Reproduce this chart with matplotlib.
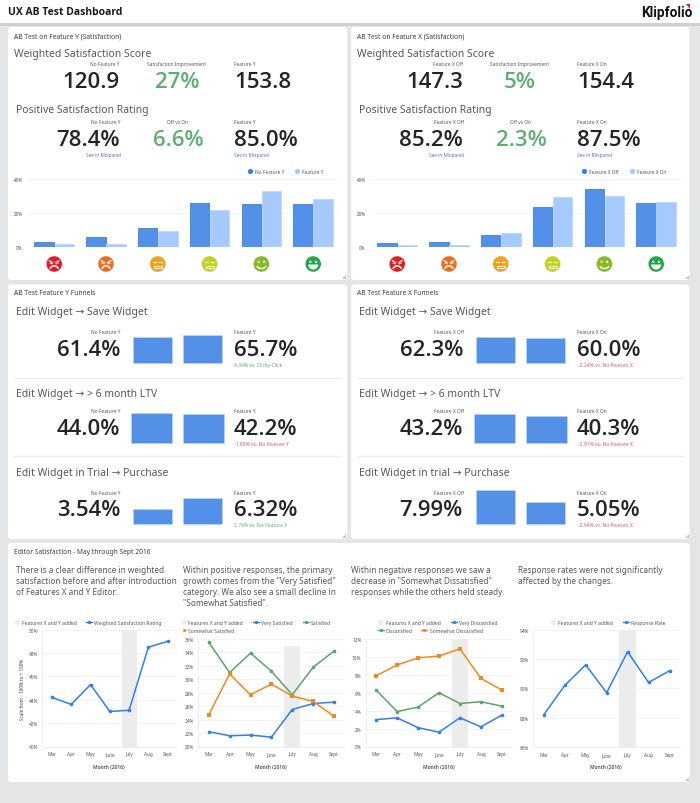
import numpy as np
import matplotlib
matplotlib.use('Agg')
import matplotlib.pyplot as plt
from matplotlib.patches import FancyBboxPatch, Rectangle, Circle, Polygon, Arc

plt.rcParams['font.family'] = ['Noto Sans', 'DejaVu Sans']

W, H = 700, 804

# data
faces = ['angry', 'mad', 'flat', 'meh', 'smile', 'grin']
face_colors = ['#e31b23', '#ee6c1e', '#f2a11f', '#bfd41f', '#86bb27', '#22a64b']
y_off = [2.9, 5.9, 11.5, 26.1, 25.4, 25.2]
y_on = [2.0, 2.0, 9.4, 22.0, 33.2, 28.1]
x_off = [2.7, 3.3, 7.2, 23.6, 34.0, 25.8]
x_on = [1.2, 1.6, 8.4, 29.3, 30.0, 26.5]

months = ['Mar', 'Apr', 'May', 'June', 'July', 'Aug', 'Sept']
weighted = [44.2, 43.6, 45.3, 43.0, 43.1, 48.5, 49.0]
very_sat = [22.2, 21.6, 21.7, 21.4, 25.5, 26.4, 26.6]
satisfied = [35.5, 31.0, 33.9, 31.2, 27.7, 31.8, 34.2]
somewhat_sat = [24.7, 30.8, 27.7, 29.3, 27.5, 26.7, 24.5]
very_dis = [3.0, 3.2, 2.1, 1.6, 3.2, 2.2, 3.5]
dissatisfied = [6.3, 3.9, 4.4, 6.0, 4.8, 5.0, 4.5]
somewhat_dis = [7.9, 9.1, 9.9, 10.1, 10.9, 7.6, 6.3]
response = [88.2, 90.2, 91.6, 89.7, 92.5, 90.4, 91.2]

funnel_y = [[61.4, 65.7], [44.0, 42.2], [3.54, 6.32]]
funnel_x = [[62.3, 60.0], [43.2, 40.3], [7.99, 5.05]]

BLUE = '#2f7fed'
GREEN = '#5aa469'
ORANGE = '#ee8a1d'
DARK = '#222426'
GREY = '#55585b'
BAR = '#5390e8'
LIGHT = '#a6caff'
POS = '#5fae73'
NEG = '#e0566e'
LINK = '#6073b8'


def pt(px):
    return px * 0.72


fig = plt.figure(figsize=(7, 8.04), dpi=100, facecolor='#e4e5e6')
bg = fig.add_axes([0, 0, 1, 1])
bg.set_xlim(0, W)
bg.set_ylim(H, 0)
bg.axis('off')


def px_ax(x0, y0, x1, y1):
    ax = fig.add_axes([x0 / W, 1 - y1 / H, (x1 - x0) / W, (y1 - y0) / H])
    ax.patch.set_alpha(0)
    return ax


def txt(x, y, s, size, color=GREY, ha='left', **kw):
    # va center sits a little high because of the descender room
    bg.text(x, y + size * 0.1, s, fontsize=pt(size), color=color, ha=ha, va='center', **kw)


def big(x, y, s, color=DARK, ha='left'):
    txt(x, y - 0.8, s, 22.3, color, ha, family='Open Sans', fontweight='semibold')


def panel(x0, y0, x1, y1, handle=True):
    bg.add_patch(FancyBboxPatch((x0 + 3, y0 + 3), x1 - x0 - 6, y1 - y0 - 6,
                                boxstyle='round,pad=3,rounding_size=3', fc='white', ec='none'))
    if handle:
        bg.add_patch(Polygon([[x1 - 1, y1 - 5], [x1 - 1, y1 - 1], [x1 - 5, y1 - 1]], fc='#c4c6c8', ec='none'))


def draw_face(cx, cy, color, kind):
    bg.add_patch(Circle((cx, cy), 8, fc=color, ec='#f4f4f4', lw=0.3))
    lw = 0.8
    if kind in ('angry', 'mad'):
        bg.plot([cx - 5, cx - 1.5], [cy - 3.5, cy - 1.5], color='white', lw=lw)
        bg.plot([cx + 5, cx + 1.5], [cy - 3.5, cy - 1.5], color='white', lw=lw)
        bg.plot([cx - 4, cx - 2], [cy - 1, cy - 0.2], color='white', lw=lw)
        bg.plot([cx + 4, cx + 2], [cy - 1, cy - 0.2], color='white', lw=lw)
        bg.add_patch(Arc((cx, cy + 5), 8, 6, theta1=180, theta2=360, color='white', lw=1.1))
    elif kind in ('flat', 'meh'):
        bg.plot([cx - 4.5, cx - 1.5], [cy - 2, cy - 2], color='white', lw=lw)
        bg.plot([cx + 1.5, cx + 4.5], [cy - 2, cy - 2], color='white', lw=lw)
        bg.add_patch(Rectangle((cx - 4, cy + 1.5), 8, 2, fc='none', ec='white', lw=0.7))
    else:
        bg.add_patch(Circle((cx - 2.8, cy - 2.2), 1.1, fc='white', ec='none'))
        bg.add_patch(Circle((cx + 2.8, cy - 2.2), 1.1, fc='white', ec='none'))
        if kind == 'smile':
            bg.add_patch(Arc((cx, cy + 0.5), 10, 8, theta1=20, theta2=160, color='white', lw=1))
        else:
            th = np.radians(np.arange(0, 181, 15))
            bg.add_patch(Polygon(np.c_[cx + 5 * np.cos(th), cy + 0.5 + 5 * np.sin(th)], fc='white', ec='none'))


def sat_panel(dx, name, off_label, on_label, scores, pct, off, on, leg):
    txt(14 + dx, 36, name, 6.7, '#3a3d40')
    txt(14 + dx, 53, 'Weighted Satisfaction Score', 10.4)
    txt(120 + dx, 64.5, off_label, 4.85, ha='right')
    txt(177 + dx, 64.5, 'Satisfaction Improvement', 4.85, ha='center')
    txt(234 + dx, 64.5, on_label, 4.85)
    big(120 + dx, 81, scores[0], ha='right')
    big(177 + dx, 81, scores[1], POS, 'center')
    big(234 + dx, 81, scores[2])
    txt(16 + dx, 109, 'Positive Satisfaction Rating', 10.4)
    txt(120.5 + dx, 122.5, off_label, 4.85, ha='right')
    txt(177.5 + dx, 122.5, 'Off vs On', 4.85, ha='center')
    txt(234 + dx, 122.5, on_label, 4.85)
    big(120 + dx, 139, pct[0], ha='right')
    big(178 + dx, 139, pct[1], POS, 'center')
    big(234 + dx, 139, pct[2])
    txt(121 + dx, 155, 'See in Mixpanel', 4.75, LINK, 'right')
    txt(234 + dx, 155, 'See in Mixpanel', 4.75, LINK)

    bg.scatter([leg[0]], [171.7], s=14, color=BLUE, lw=0)
    txt(leg[0] + 5.3, 171.7, off_label, 4.8)
    bg.scatter([leg[1]], [171.7], s=14, color=LIGHT, lw=0)
    txt(leg[1] + 5, 171.7, on_label, 4.8)

    ax = px_ax(28 + dx + 0.3, 180, 339 + dx, 248.3)
    pos = np.arange(6)
    ax.bar(pos - 0.195, off, 0.375, color=BAR, edgecolor='#3c80e6', lw=0.6)
    ax.bar(pos + 0.195, on, 0.375, color=LIGHT, edgecolor='#b9d6ff', lw=0.6)
    ax.set_xlim(-0.5, 5.5)
    ax.set_ylim(0, 40)
    ax.set_yticks([0, 20, 40], ['0%', '20%', '40%'])
    ax.set_xticks([])
    ax.tick_params(axis='y', length=0, labelsize=pt(4.6), labelcolor=GREY, pad=4)
    ax.grid(axis='y', color='#f3f3f3', lw=0.8)
    ax.set_axisbelow(True)
    for s in ax.spines.values():
        s.set_visible(False)
    for i, kind in enumerate(faces):
        draw_face(28.3 + dx + 51.8 * (i + 0.5), 265, face_colors[i], kind)


def funnel_bars(c0, c1, base, top_px, vals):
    spacing = c1 - c0
    ax = px_ax(c0 - spacing / 2, base - top_px, c1 + spacing / 2, base)
    ax.bar([0, 1], vals, 0.775, color=BAR, edgecolor='#bcd5f7', lw=0.5, clip_on=False)
    ax.set_xlim(-0.5, 1.5)
    ax.set_ylim(0, max(vals))
    ax.axis('off')


def funnel_panel(dx, name, off_label, on_label, rows, vals, fmts, notes, geom):
    txt(14 + dx, 293, name, 6.7, '#3a3d40')
    for (title, ty, ly, ny, sy), val, fmt, note, g in zip(rows, vals, fmts, notes, geom):
        txt(16 + dx, ty, title, 10.4)
        txt(120.5 + dx, ly, off_label, 4.85, ha='right')
        txt(234 + dx, ly, on_label, 4.85)
        big(120 + dx, ny, fmt.format(val[0]), ha='right')
        big(234 + dx, ny, fmt.format(val[1]))
        txt(234.5 + dx, sy, note[0], 5.0, note[1])
        funnel_bars(g[0], g[1], g[2], g[3], val)
    for y in [378.7, 457.3]:
        bg.plot([13.5 + dx, 340 + dx], [y, y], color='#ececec', lw=1)


def line_ax(x0, y0, x1, y1, ylim, ticks, band, series, xlabel_x):
    ax = px_ax(x0, y0, x1, y1)
    pos = np.arange(len(months))
    ax.bar(4, band - ylim[0], 0.78, bottom=ylim[0], color='#ececec', lw=0)
    for vals, color, marker in series:
        ax.plot(pos, vals, color=color, lw=1.1, marker=marker, ms=2.6, mew=0)
    ax.set_xlim(-0.5, 6.5)
    ax.set_ylim(*ylim)
    ax.set_yticks(ticks, [f'{t}%' for t in ticks])
    ax.set_xticks(pos, months)
    ax.tick_params(axis='both', length=0, labelsize=pt(4.7), labelcolor=GREY)
    ax.tick_params(axis='y', pad=3)
    ax.tick_params(axis='x', pad=3.5)
    ax.grid(axis='y', color='#f3f3f3', lw=0.8)
    ax.set_axisbelow(True)
    for s in ['top', 'right']:
        ax.spines[s].set_visible(False)
    for s in ['left', 'bottom']:
        ax.spines[s].set_color('#eeeeee')
        ax.spines[s].set_linewidth(0.7)
    txt(xlabel_x, 766, 'Month (2016)', 4.9, '#3c3f42', 'center', family='Open Sans', fontweight='semibold')
    return ax


def leg_line(x, y, s, color, marker='o'):
    bg.plot([x - 3, x + 3], [y, y], color=color, lw=1)
    bg.plot([x], [y], color=color, marker=marker, ms=2.4, mew=0)
    txt(x + 5.2, y, s, 5)


def leg_band(x, y, s, tx):
    bg.scatter([x], [y], s=14, color='#ececec', lw=0)
    txt(tx, y, s, 5)


# page background pieces
bg.add_patch(Rectangle((0, 0), W, 24, fc='white', ec='none'))
bg.add_patch(Rectangle((0, 24), W, 2.5, fc='#cdcfd1', ec='none'))
txt(8, 11, 'UX AB Test Dashboard', 10.4, '#1a1a1a', family='Open Sans', fontweight='bold')
txt(641.5, 11.5, 'Klipfolio', 13.6, '#111111', family='Roboto', fontweight='bold')
bg.add_patch(Polygon([[685.5, 5.3], [690, 5.3], [690, 9.8]], fc='#d8232a', ec='none'))

panel(8, 28, 347, 281)
panel(351, 28, 689.5, 281)
panel(8, 285.5, 347, 540)
panel(351, 285.5, 689.5, 540)
panel(8, 544, 690, 783)

sat_panel(0, 'AB Test on Feature Y (Satisfaction)', 'No Feature Y', 'Feature Y',
          ['120.9', '27%', '153.8'], ['78.4%', '6.6%', '85.0%'], y_off, y_on, [249.7, 297.3])
sat_panel(343, 'AB Test on Feature X (Satisfaction)', 'Feature X Off', 'Feature X On',
          ['147.3', '5%', '154.4'], ['85.2%', '2.3%', '87.5%'], x_off, x_on, [583.7, 632.3])

row_y = [('Edit Widget → Save Widget', 311.7, 332.3, 349, 365),
         ('Edit Widget → > 6 month LTV', 393.7, 411, 428.3, 444),
         ('Edit Widget in Trial → Purchase', 472.3, 492.7, 509.3, 525)]
row_x = [('Edit Widget → Save Widget', 311.7, 332.3, 349, 365),
         ('Edit Widget → > 6 month LTV', 393.7, 411, 428.3, 444),
         ('Edit Widget in trial → Purchase', 472.3, 492.7, 509.3, 525)]
notes_y = [('4.34% vs. Clicky-Click', POS), ('-1.85% vs. No Feature Y', NEG), ('2.78% vs. No Feature Y', POS)]
notes_x = [('-2.24% vs. No Feature X', NEG), ('-2.91% vs. No Feature X', NEG), ('-2.94% vs. No Feature X', NEG)]
geom_y = [(152.3, 202.7, 364, 27.7), (151.3, 203.5, 444.3, 30.7), (152.3, 202.7, 524.7, 26)]
geom_x = [(495.3, 545.8, 364, 26), (494.3, 546.5, 444.3, 29.3), (495.3, 545.8, 524.7, 33.7)]
fmts = ['{:.1f}%', '{:.1f}%', '{:.2f}%']

funnel_panel(0, 'AB Test Feature Y Funnels', 'No Feature Y', 'Feature Y', row_y, funnel_y, fmts, notes_y, geom_y)
funnel_panel(343, 'AB Test Feature X Funnels', 'Feature X Off', 'Feature X On', row_x, funnel_x, fmts, notes_x, geom_x)

txt(14, 552, 'Editor Satisfaction - May through Sept 2016', 6.7, '#3a3d40')

paragraphs = [
    (16, ['There is a clear difference in weighted', 'satisfaction before and after introduction', 'of Features X and Y Editor.']),
    (183.3, ['Within positive responses, the primary', 'growth comes from the "Very Satisfied"', 'category. We also see a small decline in', '"Somewhat Satisfied".']),
    (351, ['Within negative responses we saw a', 'decrease in "Somewhat Dissatisfied"', 'responses while the others held steady.']),
    (518, ['Response rates were not significantly', 'affected by the changes.']),
]
for x, lines in paragraphs:
    for i, line in enumerate(lines):
        txt(x, 570 + i * 11, line, 8.2)

leg_band(17, 622.7, 'Features X and Y added', 21.7)
leg_line(89, 622.7, 'Weighted Satisfaction Rating', BLUE)
leg_band(183.7, 622.7, 'Features X and Y added', 187.7)
leg_line(256, 622.7, 'Very Satisfied', BLUE)
leg_line(305.7, 622.7, 'Satisfied', GREEN)
bg.plot([185], [630.7], color=ORANGE, marker='>', ms=3, mew=0)
txt(187.7, 630.7, 'Somewhat Satisfied', 5)
leg_band(380.3, 622.7, 'Features X and Y added', 385.7)
leg_line(453.7, 622.7, 'Very Dissatisfied', BLUE)
leg_line(380.7, 630.7, 'Dissatisfied', GREEN)
leg_line(424.3, 630.7, 'Somewhat Dissatisfied', ORANGE)
leg_band(552.7, 622.7, 'Features X and Y added', 558)
leg_line(625.7, 622.7, 'Response Rate', BLUE)

line_ax(42.3, 630.7, 177.3, 747.5, (40, 50), [40, 42, 44, 46, 48, 50], 50,
        [(weighted, BLUE, 'o')], 109.3)
bg.text(22.7, 689, 'Scale from - 100% to + 100%', fontsize=pt(4.6), color='#3c3f42', ha='center', va='center', rotation=90)
line_ax(198.3, 640, 344.5, 747.5, (20, 36), list(range(20, 37, 2)), 35,
        [(very_sat, BLUE, 'o'), (satisfied, GREEN, 'o'), (somewhat_sat, ORANGE, 's')], 271)
line_ax(365.7, 640, 512.3, 747.5, (0, 12), list(range(0, 13, 2)), 12,
        [(very_dis, BLUE, 'o'), (dissatisfied, GREEN, 'o'), (somewhat_dis, ORANGE, 's')], 438.7)
line_ax(533.3, 630.7, 680, 748, (86, 94), [86, 88, 90, 92, 94], 94,
        [(response, BLUE, 'o')], 606.3)

fig.savefig('out.png', dpi=100, facecolor=fig.get_facecolor())
